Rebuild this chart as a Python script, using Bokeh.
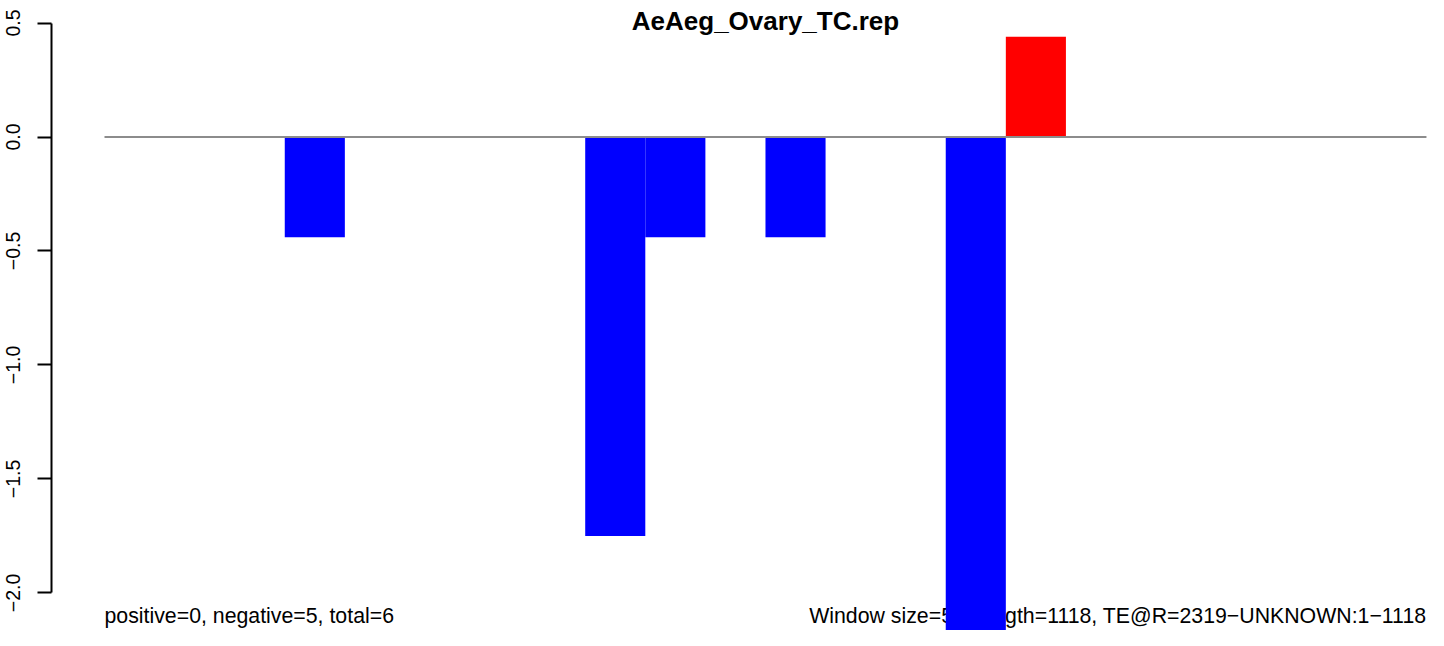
from bokeh.plotting import figure
from bokeh.models import Range1d, FixedTicker
from bokeh.core.properties import value
from bokeh.embed import file_html
from bokeh.resources import INLINE

# ---- data ----
chart_title = "AeAeg_Ovary_TC.rep"
window_values = [0, 0, 0, -0.44, 0, 0, 0, 0, -1.75, -0.44, 0, -0.44,
                 0, 0, -2.19, 0.44, 0, 0, 0, 0, 0, 0]
tick_values = [0.5, 0.0, -0.5, -1.0, -1.5, -2.0]
tick_labels = ["0.5", "0.0", "\u22120.5", "\u22121.0", "\u22121.5", "\u22122.0"]
left_note = "positive=0, negative=5, total=6"
right_note = "Window size=50, length=1118, TE@R=2319\u2212UNKNOWN:1\u22121118"

n = len(window_values)
xs = [i + 0.5 for i in range(n)]
tops = [max(v, 0) for v in window_values]
bottoms = [min(v, 0) for v in window_values]
colors = ["#FF0000" if v > 0 else "#0000FF" for v in window_values]

FONT = value("Liberation Sans")

p = figure(width=1428, height=630, output_backend="svg", toolbar_location=None,
           x_range=Range1d(-0.882, 22.034), y_range=Range1d(-2.1645, 0.5987),
           x_axis_type=None,
           min_border_left=51, min_border_right=0, min_border_top=0, min_border_bottom=0)
p.background_fill_color = "white"
p.border_fill_color = "white"
p.outline_line_color = None
p.grid.visible = False

ax = p.yaxis[0]
ax.ticker = FixedTicker(ticks=tick_values)
ax.major_label_overrides = {t: l for t, l in zip(tick_values, tick_labels)}
ax.bounds = (min(tick_values), max(tick_values))
ax.major_tick_out = 14
ax.major_tick_in = 0
ax.minor_tick_line_color = None
ax.axis_line_width = 2
ax.major_tick_line_width = 2
ax.axis_line_color = "black"
ax.major_tick_line_color = "black"
ax.major_label_orientation = "vertical"
ax.major_label_standoff = 17
ax.major_label_text_font = "Liberation Sans"
ax.major_label_text_font_size = "19.5px"
ax.major_label_text_color = "black"

# bottom notes (drawn under the bars)
p.text(x=[0], y=[-2.103], text=[left_note], text_font=FONT, text_font_size="21.3px",
       text_align="left", text_baseline="alphabetic", text_color="black")
p.text(x=[n], y=[-2.103], text=[right_note], text_font=FONT, text_font_size="21.3px",
       text_align="right", text_baseline="alphabetic", text_color="black")

# title
p.text(x=[n / 2], y=[0.5066], text=[chart_title], text_font=FONT, text_font_size="26px",
       text_font_style="bold", text_align="center", text_baseline="alphabetic",
       text_color="black")

# bars
p.vbar(x=xs, width=1.0, top=tops, bottom=bottoms, fill_color=colors, line_color=None)

# zero line
p.segment(x0=[0], y0=[0], x1=[n], y1=[0], line_color="#8c8c8c", line_width=2)

open("out.html", "w").write(file_html(p, INLINE))
